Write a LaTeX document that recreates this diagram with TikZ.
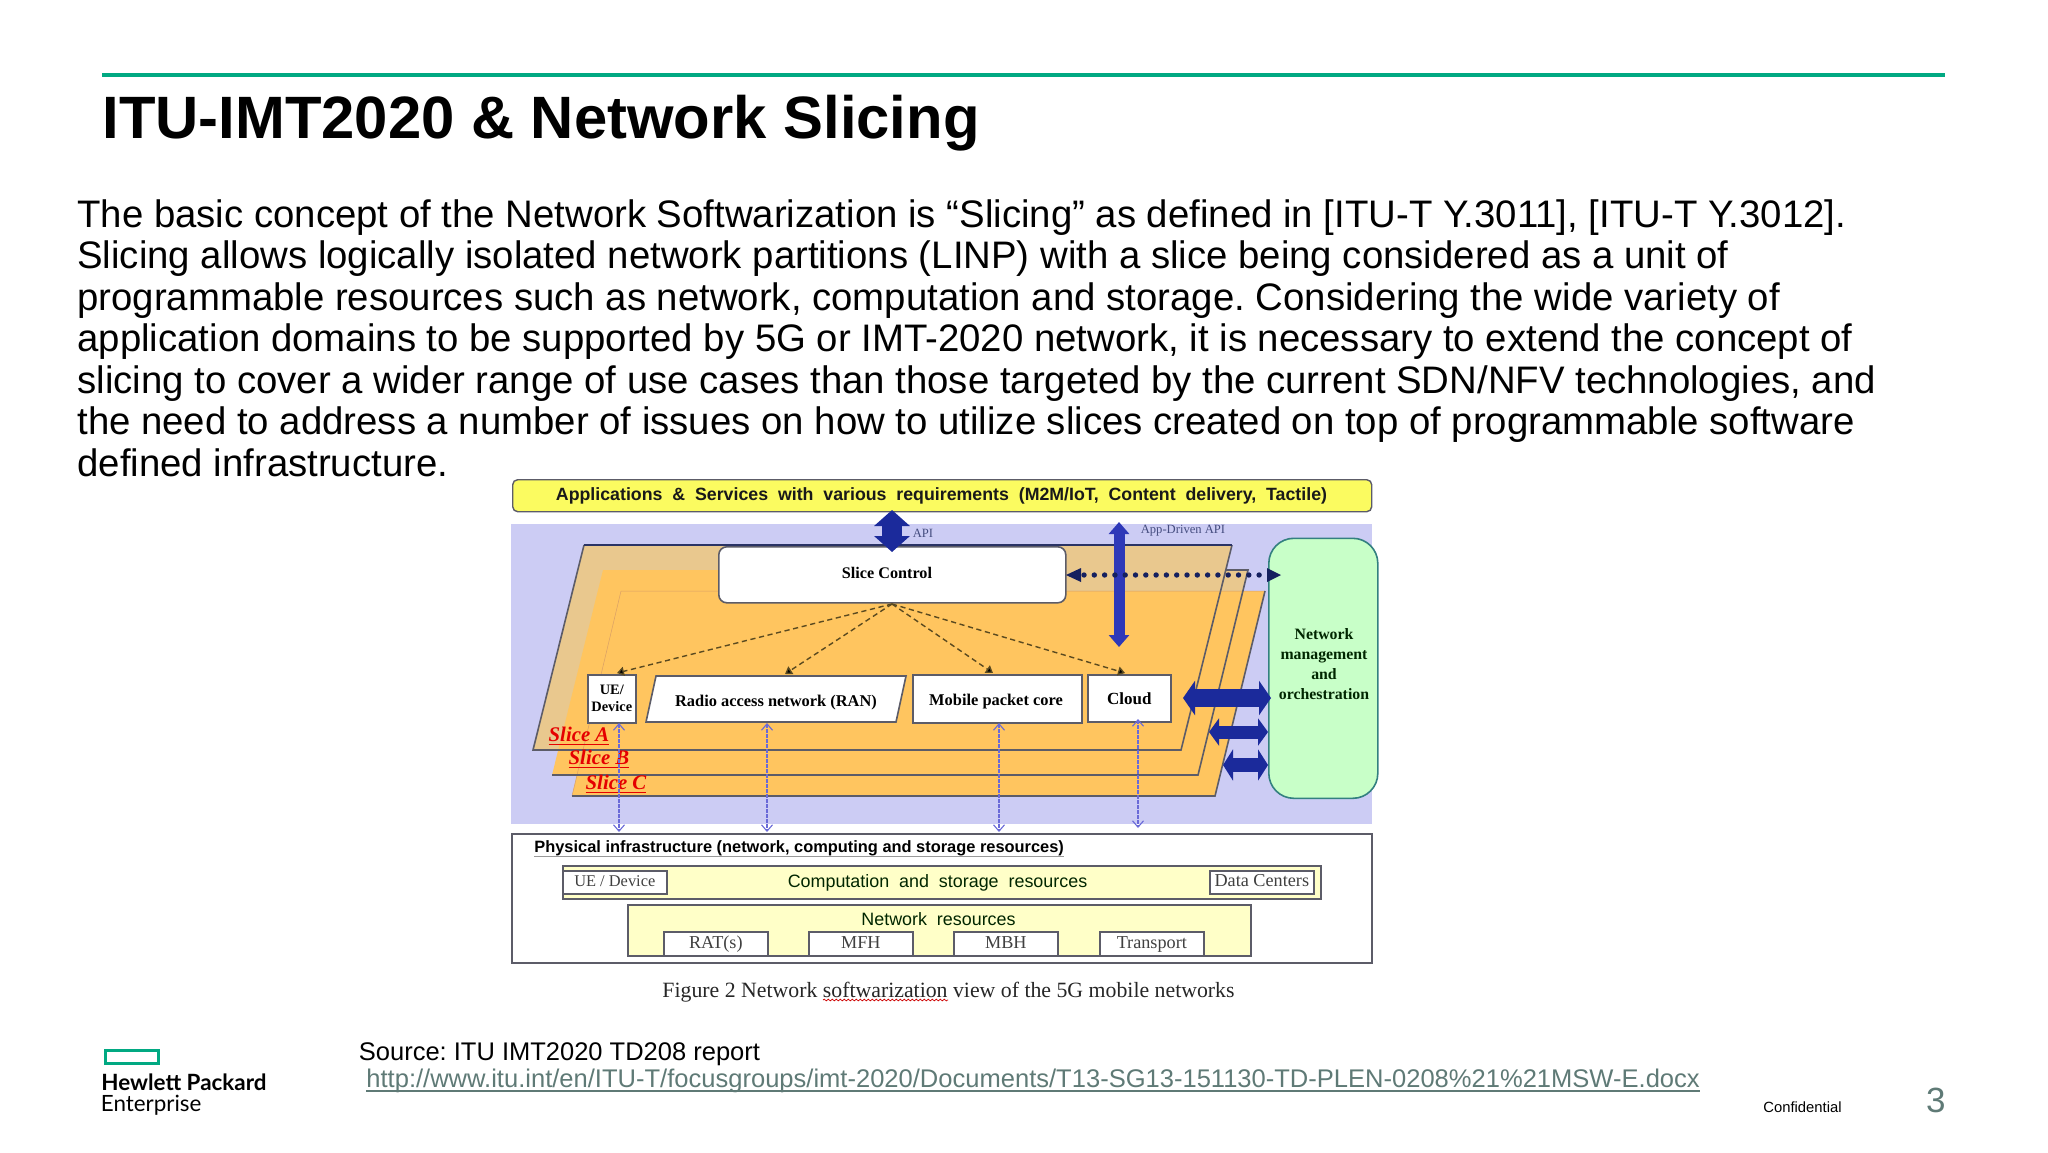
\documentclass[tikz,border=0pt]{standalone}
\usepackage{fontspec}
\setmainfont{Liberation Sans}
\newfontfamily\srf{Liberation Serif}
\newfontfamily\wsans[WordSpace=2.0]{Liberation Sans}
\newfontfamily\logof{Lato}
\usetikzlibrary{arrows.meta,shapes.geometric,decorations.pathmorphing,calc}
\newcommand{\szf}[2]{\fontsize{#1}{#2}\selectfont}
\frenchspacing
\definecolor{hpegreen}{HTML}{01A982}
\definecolor{slate}{HTML}{5F7A76}
\definecolor{lav}{HTML}{CCCCF4}
\definecolor{tan}{HTML}{E9C88E}
\definecolor{orng}{HTML}{FFC55F}
\definecolor{pale}{HTML}{FFFFC8}
\definecolor{barfill}{HTML}{FBFB60}
\definecolor{mint}{HTML}{C8FFC8}
\definecolor{edgeg}{HTML}{5C5C68}
\definecolor{navy}{HTML}{1B2A9B}
\definecolor{royal}{HTML}{2E38B8}
\definecolor{inkn}{HTML}{15205F}
\definecolor{dashb}{HTML}{6A6AD8}
\definecolor{dashk}{HTML}{5A4A20}
\tikzset{
  whitebox/.style={draw=edgeg,fill=white,line width=.8pt,inner sep=0pt,anchor=north west,text=black,font=\srf\bfseries\szf{8}{8.5}},
  infra/.style={draw=edgeg,fill=white,line width=.8pt,inner sep=0pt,anchor=north west,text=black!75,text height=6pt,text depth=1.4pt,font=\srf\szf{9.1}{9}},
  ctrl/.style={draw=dashk,line width=.7pt,dash pattern=on 2.6pt off 1.8pt,-{Triangle[length=3.5pt,width=4.5pt,fill=black]}},
  phys/.style={draw=dashb,line width=.55pt,dash pattern=on 1.6pt off .9pt,{Straight Barb[length=3.2pt,width=5.5pt]}-{Straight Barb[length=3.2pt,width=5.5pt]}},
  slicetag/.style={text=red!90!black,font=\srf\bfseries\itshape\szf{10.4}{11}},
  slab/.style={inner sep=0pt},
}
\begin{document}
\begin{tikzpicture}[x=.5pt,y=-.5pt]
\useasboundingbox (0,0) rectangle (2048,1152);
% slide header
\coordinate (ruleL) at (102,75);
\coordinate (ruleR) at (1945,75);
\draw[hpegreen,line width=1.75pt] (ruleL) -- (ruleR);
\node[slab,anchor=base west] (title) at (102,138) {\szf{29.9}{30}\bfseries ITU-IMT2020 \& Network Slicing};
\node[slab,anchor=north west,align=left,font=\szf{19.17}{20.75}] (body) at (77,199) {The basic concept of the Network Softwarization is “Slicing” as defined in [ITU-T Y.3011], [ITU-T Y.3012].\\
Slicing allows logically isolated network partitions (LINP) with a slice being considered as a unit of\\
programmable resources such as network, computation and storage. Considering the wide variety of\\
application domains to be supported by 5G or IMT-2020 network, it is necessary to extend the concept of\\
slicing to cover a wider range of use cases than those targeted by the current SDN/NFV technologies, and\\
the need to address a number of issues on how to utilize slices created on top of programmable software\\
defined infrastructure.};
% top bar
\node[draw=edgeg,fill=barfill,rounded corners=2.5pt,line width=.7pt,inner sep=0pt,anchor=north west,minimum width=429.5pt,minimum height=16pt] (bar) at (512,479) {};
\node[slab,text=black!90] (bartext) at (941.5,496) {\wsans\bfseries\szf{8.88}{8}Applications \& Services with various requirements (M2M/IoT, Content delivery, Tactile)};
% blue ground and slices
\fill[lav] (511,524) rectangle (1372,824);
\fill[tan] (584,545) -- (1232,545) -- (1181,750) -- (533,750) -- cycle;
\fill[orng] (603,570) -- (1248,570) -- (1198,775) -- (552,775) -- cycle;
\fill[orng] (621,591) -- (1265,591) -- (1215,796) -- (572,796) -- cycle;
\fill[tan] (1060,545) -- (1232,545) -- (1226,570) -- (1248,570) -- (1243,591) -- (1060,591) -- cycle;
\draw[orange!75!black!60,line width=.25pt] (572,796) -- (621,591) -- (1265,591);
\draw[edgeg,line width=.8pt] (1232,545) -- (1181,750) -- (533,750) -- (584,545);
\draw[inkn!80!gray,line width=1.1pt] (584,545) -- (1232,545);
\draw[edgeg,line width=.8pt] (1226,570) -- (1248,570) -- (1198,775) -- (552,775);
\draw[edgeg,line width=.8pt] (1265,591) -- (1215,796) -- (572,796);
% boxes
\node[whitebox,rounded corners=4pt,minimum width=173.5pt,minimum height=28pt] (ctrlbox) at (718,546) {};
\node[slab,font=\srf\bfseries\szf{8.1}{9}] (ctrllabel) at (887,573) {Slice Control};
\node[whitebox,minimum width=24pt,minimum height=24pt,align=center,font=\srf\bfseries\szf{7.2}{8.5}] (ue) at (587,674) {UE/\\Device};
\draw[edgeg,fill=white,line width=.8pt] (656,676) -- (906,676) -- (896,722) -- (646,722) -- cycle;
\node[slab,font=\srf\bfseries\szf{8.2}{9}] (ran) at (776,703) {Radio access network (RAN)};
\node[whitebox,minimum width=84.5pt,minimum height=24pt] (mpc) at (912,674) {};
\node[slab,font=\srf\bfseries\szf{8.2}{9}] (mpclabel) at (996,702) {Mobile packet core};
\node[whitebox,minimum width=41.5pt,minimum height=23.5pt,font=\srf\bfseries\szf{8.5}{9}] (cloud) at (1087,674) {Cloud};
\node[draw=teal!60!gray,fill=mint,line width=.8pt,rounded corners=12.5pt,anchor=north west,minimum width=54.5pt,minimum height=130pt,inner sep=0pt] (nmo) at (1268,537.5) {};
\node[slab,align=center,text=black!85!green,font=\srf\bfseries\szf{7.9}{10}] (nmolabel) at (1324,664.5) {Network\\management\\and\\orchestration};
% slice tags
\node[slab,slicetag] (sa) at (579,736) {\underline{Slice A}};
\node[slab,slicetag] (sb) at (599,759) {\underline{Slice B}};
\node[slab,slicetag] (sc) at (616,784) {\underline{Slice C}};
% physical infrastructure
\node[draw=edgeg,fill=white,line width=.9pt,inner sep=0pt,anchor=north west,minimum width=430pt,minimum height=64.5pt] (physbox) at (511,833) {};
\node[slab,anchor=west,font=\bfseries\szf{8.2}{8}] (phystitle) at (534,848.5) {Physical infrastructure (network, computing and storage resources)};
\coordinate (physulL) at (534,856);
\coordinate (physulR) at (1064,856);
\draw[black!40,line width=.4pt] (physulL) -- (physulR);
\node[draw=edgeg,fill=pale,line width=.8pt,inner sep=0pt,anchor=north west,minimum width=379pt,minimum height=16.5pt] (comp) at (562,865) {};
\node[slab,text=black!85!green,font=\wsans\szf{8.95}{8}] (complabel) at (937.5,883) {Computation and storage resources};
\node[infra,minimum width=52pt,minimum height=11.5pt,font=\srf\szf{8.2}{9}] (uedev) at (562,870) {UE / Device};
\node[infra,minimum width=52pt,minimum height=11.5pt] (dc) at (1209,870) {Data Centers};
\node[draw=edgeg,fill=pale,line width=.8pt,inner sep=0pt,anchor=north west,minimum width=311.5pt,minimum height=25.5pt] (netres) at (627,904) {};
\node[slab,text=black!85!green,font=\wsans\szf{8.95}{8}] (netlabel) at (938.5,919) {Network resources};
\node[infra,minimum width=52pt,minimum height=12pt] (rat) at (663,931) {RAT(s)};
\node[infra,minimum width=52pt,minimum height=12pt] (mfh) at (808,931) {MFH};
\node[infra,minimum width=52pt,minimum height=12pt] (mbh) at (953,931) {MBH};
\node[infra,minimum width=52pt,minimum height=12pt] (tr) at (1099,931) {Transport};
\node[slab,anchor=base,font=\srf\szf{10.9}{11},text=black!85] (caption) at (948.5,997) {Figure 2 Network softwarization view of the 5G mobile networks};
\coordinate (wavL) at (823,1000);
\coordinate (wavR) at (948,1000);
\draw[red!80!black,line width=.35pt,decorate,decoration={snake,amplitude=.45pt,segment length=2pt}] (wavL) -- (wavR);
% connectors: slice control to functions
\coordinate (scdown) at (892,604);
\coordinate (p1) at (617,673);
\coordinate (p2) at (785,674);
\coordinate (p3) at (993,673);
\coordinate (p4) at (1125,673);
\draw[ctrl] (scdown) -- (p1);
\draw[ctrl] (scdown) -- (p2);
\draw[ctrl] (scdown) -- (p3);
\draw[ctrl] (scdown) -- (p4);
% connectors: functions to physical
\coordinate (v1a) at (619,723); \coordinate (v1b) at (619,832);
\coordinate (v2a) at (767,723); \coordinate (v2b) at (767,832);
\coordinate (v3a) at (999,723); \coordinate (v3b) at (999,832);
\coordinate (v4a) at (1138,719); \coordinate (v4b) at (1138,828);
\draw[phys] (v1a) -- (v1b);
\draw[phys] (v2a) -- (v2b);
\draw[phys] (v3a) -- (v3b);
\draw[phys] (v4a) -- (v4b);
% API arrows
\coordinate (apiT) at (892,510); \coordinate (apiB) at (892,552);
\draw[navy,line width=10pt,{Triangle[length=8pt,width=17.5pt]}-{Triangle[length=8pt,width=17.5pt]}] (apiT) -- (apiB);
\node[slab,text=inkn!80,font=\srf\szf{6.3}{7}] (apilabel) at (923,533) {API};
\coordinate (appT) at (1119,522); \coordinate (appB) at (1119,647);
\draw[royal,line width=5.5pt,{Triangle[length=6pt,width=10pt]}-{Triangle[length=6pt,width=10pt]}] (appT) -- (appB);
\node[slab,text=inkn!80,font=\srf\szf{6.3}{7}] (applabel) at (1183,531) {App-Driven API};
% dotted management link
\coordinate (dotL) at (1066,575); \coordinate (dotR) at (1281,575);
\coordinate (dotLi) at (1084,575); \coordinate (dotRi) at (1266,575);
\draw[inkn,line width=2.7pt,line cap=round,dash pattern=on 0pt off 5.15pt] (dotLi) -- (dotRi);
\fill[inkn] (dotL) -- (1081,568) -- (1081,582) -- cycle;
\fill[inkn] (dotR) -- (1267,568) -- (1267,582) -- cycle;
% management arrows
\coordinate (m1a) at (1183,698); \coordinate (m1b) at (1271,698);
\coordinate (m2a) at (1209,732); \coordinate (m2b) at (1268,732);
\coordinate (m3a) at (1223,765); \coordinate (m3b) at (1268,765);
\draw[navy,line width=9pt,{Triangle[length=6pt,width=17pt]}-{Triangle[length=6pt,width=17pt]}] (m1a) -- (m1b);
\draw[navy,line width=6.5pt,{Triangle[length=5pt,width=13.5pt]}-{Triangle[length=5pt,width=13.5pt]}] (m2a) -- (m2b);
\draw[navy,line width=7pt,{Triangle[length=5pt,width=15.5pt]}-{Triangle[length=5pt,width=15.5pt]}] (m3a) -- (m3b);
% footer
\node[draw=hpegreen,line width=1.6pt,inner sep=0pt,anchor=north west,minimum width=26.5pt,minimum height=6.5pt] (logobox) at (103.5,1049) {};
\node[slab,anchor=base west,font=\logof\bfseries\szf{11.2}{10}] (hp) at (101,1090) {Hewlett Packard};
\node[slab,anchor=base west,font=\logof\szf{11.2}{10}] (ent) at (100.5,1111) {Enterprise};
\node[slab,anchor=base west,font=\szf{12.75}{13}] (src) at (358.5,1060) {Source: ITU IMT2020 TD208 report};
\node[slab,anchor=base west,text=slate,font=\szf{12.77}{13}] (url) at (366,1087) {http://www.itu.int/en/ITU-T/focusgroups/imt-2020/Documents/T13-SG13-151130-TD-PLEN-0208\%21\%21MSW-E.docx};
\draw[slate,line width=.75pt] ($(url.base west)+(0,4)$) -- ($(url.base east)+(0,4)$);
\node[slab,anchor=base west,font=\szf{7.4}{8}] (conf) at (1763,1112) {Confidential};
\node[slab,anchor=base east,text=slate,font=\szf{17.5}{18}] (page) at (1946,1112) {3};
\end{tikzpicture}
\end{document}
